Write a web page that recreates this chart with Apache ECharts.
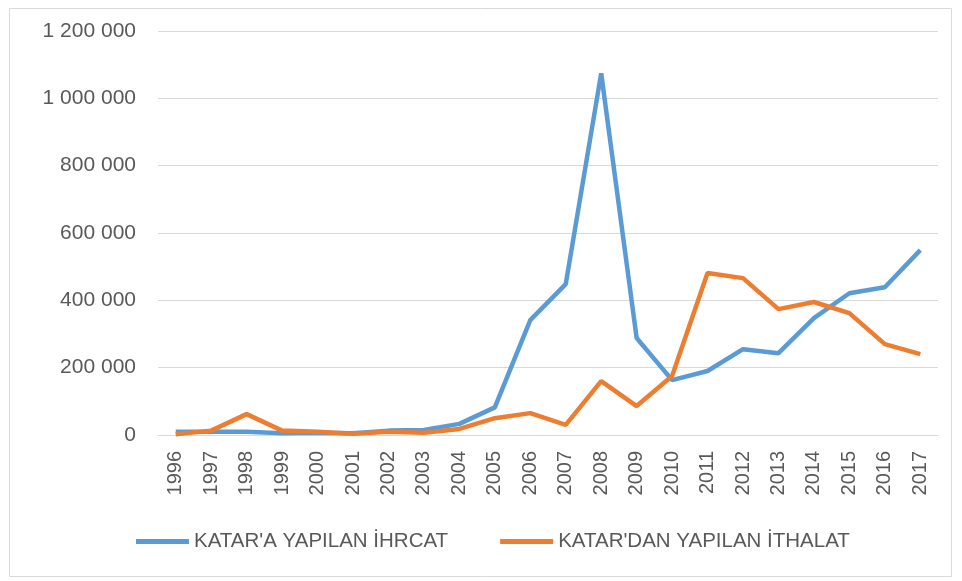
<!DOCTYPE html>
<html><head><meta charset="utf-8">
<script src="https://cdn.jsdelivr.net/npm/echarts@6/dist/echarts.min.js"></script>
<style>html,body{margin:0;padding:0;background:#fff}#c{width:962px;height:581px}</style>
</head><body><div id="c"></div>
<script>
const years = ['1996','1997','1998','1999','2000','2001','2002','2003','2004','2005','2006','2007','2008','2009','2010','2011','2012','2013','2014','2015','2016','2017'];
const exportName = "KATAR'A YAPILAN İHRCAT";
const importName = "KATAR'DAN YAPILAN İTHALAT";
const exportValues = [10000,10000,10000,5000,7000,5000,13000,15000,33000,82000,341000,448000,1074000,288000,163000,190000,255000,243000,347000,421000,439000,549000];
const importValues = [2000,13000,62000,13000,10000,4000,10000,7000,18000,50000,65000,30000,160000,86000,175000,481000,466000,374000,395000,362000,270000,240000];
const yTicks = [0,200000,400000,600000,800000,1000000,1200000];

function fmt(v){ return String(v).replace(/\B(?=(\d{3})+(?!\d))/g,' '); }

const chart = echarts.init(document.getElementById('c'));
const font = 'Liberation Sans';
chart.setOption({
  animation:false,
  textStyle:{fontFamily:font},
  graphic:[{type:'rect',shape:{x:9.5,y:8.5,width:942,height:568},style:{fill:'none',stroke:'#D9D9D9',lineWidth:1}}],
  grid:{left:158,right:24,top:31,bottom:146},
  xAxis:{type:'category',data:years,boundaryGap:true,
    axisLine:{show:true,lineStyle:{color:'#D9D9D9',width:1}},
    axisTick:{show:false},
    axisLabel:{rotate:90,color:'#595959',fontSize:20,margin:16,fontFamily:font}},
  yAxis:{type:'value',min:yTicks[0],max:yTicks[yTicks.length-1],interval:200000,
    axisLine:{show:false},axisTick:{show:false},
    splitLine:{lineStyle:{color:'#D9D9D9',width:1}},
    axisLabel:{color:'#595959',fontSize:21,margin:22,formatter:v=>fmt(v),fontFamily:font}},
  legend:{top:526,left:131,itemGap:52,itemWidth:53,itemHeight:5,icon:'rect',
    textStyle:{color:'#595959',fontSize:20.5,fontFamily:font},
    data:[exportName,importName]},
  series:[
    {name:exportName,type:'line',data:exportValues,symbol:'none',lineStyle:{color:'#5B9BD5',width:4.5},itemStyle:{color:'#5B9BD5'}},
    {name:importName,type:'line',data:importValues,symbol:'none',lineStyle:{color:'#ED7D31',width:4.5},itemStyle:{color:'#ED7D31'}}
  ]
});
</script></body></html>
